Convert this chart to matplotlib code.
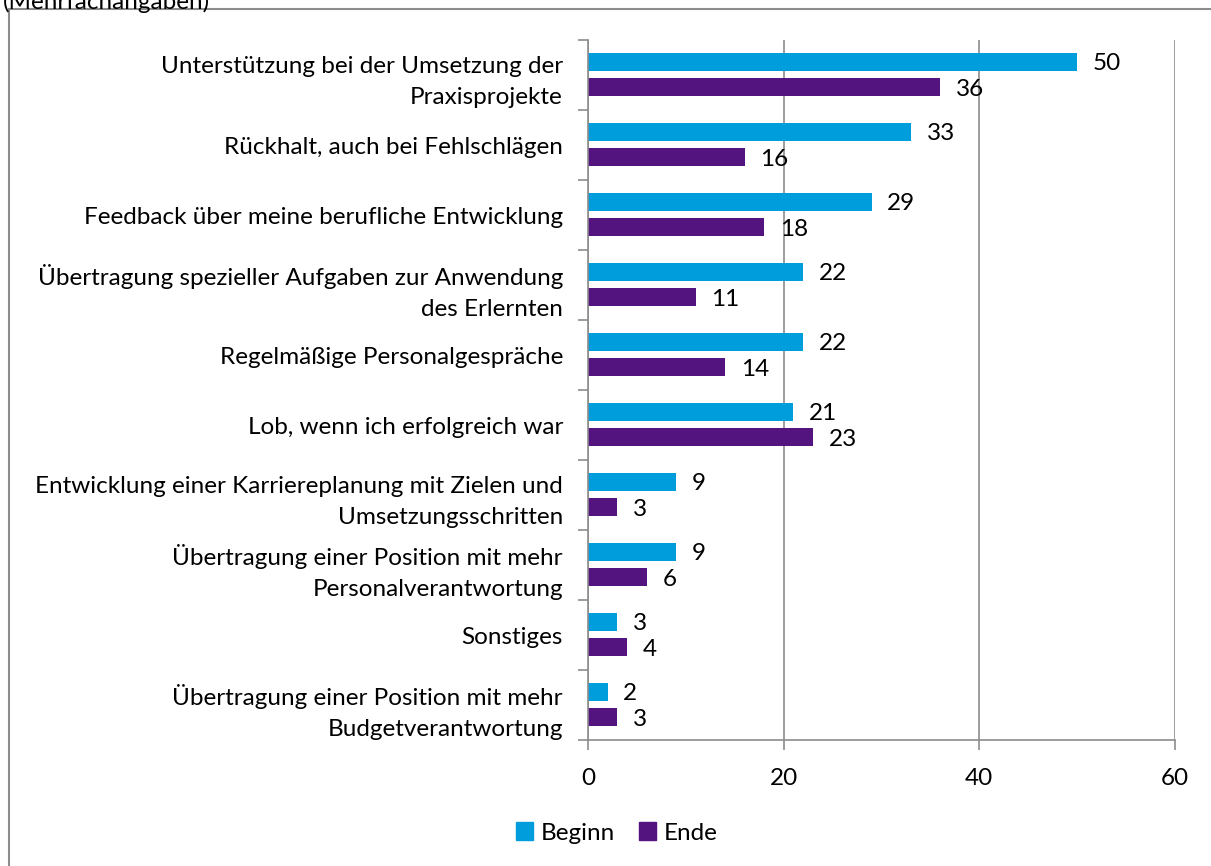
import numpy as np
import matplotlib.pyplot as plt
from matplotlib.patches import Rectangle, Patch

plt.rcParams['font.family'] = ['Lato', 'DejaVu Sans']

categories = [
    'Unterstützung bei der Umsetzung der\nPraxisprojekte',
    'Rückhalt, auch bei Fehlschlägen',
    'Feedback über meine berufliche Entwicklung',
    'Übertragung spezieller Aufgaben zur Anwendung\ndes Erlernten',
    'Regelmäßige Personalgespräche',
    'Lob, wenn ich erfolgreich war',
    'Entwicklung einer Karriereplanung mit Zielen und\nUmsetzungsschritten',
    'Übertragung einer Position mit mehr\nPersonalverantwortung',
    'Sonstiges',
    'Übertragung einer Position mit mehr\nBudgetverantwortung',
]
beginn = [50, 33, 29, 22, 22, 21, 9, 9, 3, 2]
ende = [36, 16, 18, 11, 14, 23, 3, 6, 4, 3]
xticks = [0, 20, 40, 60]

c_beginn = '#009DDC'
c_ende = '#54147F'
grey = '#8C8C8C'
fs = 17.5

fig = plt.figure(figsize=(12.11, 8.66), dpi=100)
ax = fig.add_axes([588 / 1211, 1 - 740 / 866, 587 / 1211, 700 / 866])

y = np.arange(len(categories))
h = 0.26
ax.barh(y - 0.19, beginn, height=h, color=c_beginn, label='Beginn')
ax.barh(y + 0.17, ende, height=h, color=c_ende, label='Ende')

for yi, v in zip(y - 0.19, beginn):
    ax.text(v + 1.6, yi + 0.03, str(v), va='center', ha='left', fontsize=fs)
for yi, v in zip(y + 0.17, ende):
    ax.text(v + 1.6, yi + 0.03, str(v), va='center', ha='left', fontsize=fs)

ax.set_ylim(len(categories) - 0.5, -0.5)
ax.set_xlim(0, 60)
ax.set_xticks(xticks)
ax.tick_params(axis='x', labelsize=fs, length=7, color=grey, pad=13, width=1.2)

ax.set_yticks(y)
ax.set_yticklabels(categories, fontsize=fs, linespacing=1.58)
ax.tick_params(axis='y', length=0, pad=18)
ax.set_yticks(np.arange(len(categories) + 1) - 0.5, minor=True)
ax.tick_params(axis='y', which='minor', length=7, color=grey, width=1.2)

ax.grid(axis='x', color=grey, linewidth=1.2)
ax.set_axisbelow(True)
for s in ['top', 'right']:
    ax.spines[s].set_visible(False)
for s in ['left', 'bottom']:
    ax.spines[s].set_color(grey)
    ax.spines[s].set_linewidth(1.2)

handles = [Patch(color=c_beginn, label='Beginn'), Patch(color=c_ende, label='Ende')]
fig.legend(handles=handles, loc='center', bbox_to_anchor=(617 / 1211, 1 - 833 / 866),
           ncol=2, frameon=False, fontsize=fs, handlelength=0.7, handleheight=0.7,
           handletextpad=0.3, columnspacing=1.0)

fig.patches.append(Rectangle((9 / 1211, -0.05), 1.1, 1.05 - 9 / 866, transform=fig.transFigure,
                             fill=False, edgecolor=grey, linewidth=1.5))
fig.text(0.002, 1.0 - 2 / 866, '(Mehrfachangaben)', fontsize=fs, va='center', ha='left')

fig.savefig('out.png', dpi=100)
